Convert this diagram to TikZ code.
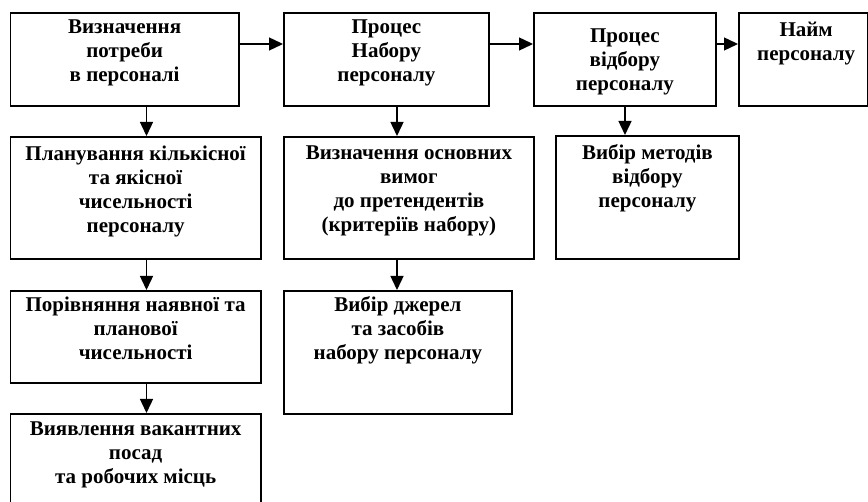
\documentclass[tikz,border=0pt]{standalone}
\usepackage{fontspec}
\setmainfont{Liberation Serif}
\usetikzlibrary{arrows.meta}
\tikzset{
  box/.style={draw, line width=1.8pt, rectangle, inner sep=0pt, anchor=north west},
  txt/.style={anchor=north, inner sep=0pt, align=center, font=\fontsize{21}{24}\selectfont\bfseries},
  arr/.style={line width=1.4pt, -{Triangle[length=14pt,width=13pt]}}
}
\newcommand{\mkbox}[5]{% name, left, top, right, bottom
  \node[box, minimum width={(#4-#2)*1pt}, minimum height={(#5-#3)*1pt}] (#1) at (#2,#3) {};}
\begin{document}
\begin{tikzpicture}[x=1pt,y=-1pt]
\useasboundingbox (0,0) rectangle (868,502);
\clip (0,0) rectangle (868,502);
\fill[white] (0,0) rectangle (868,502);
% boxes
\mkbox{b1}{9.5}{12}{238}{105}
\mkbox{b2}{283}{12}{488}{105}
\mkbox{b3}{533}{12}{715}{105}
\mkbox{b4}{738}{12}{866.5}{105}
\mkbox{c1}{9.5}{136}{260}{258}
\mkbox{c2}{283}{136}{533}{258}
\mkbox{c3}{555}{135}{738}{258}
\mkbox{d1}{9.5}{290}{260}{382}
\mkbox{d2}{283}{290}{511}{413}
\mkbox{e1}{9.5}{413}{260}{540}
% texts (north = first baseline - 0.7*baselineskip)
\node[txt] (t1) at ([yshift=-4.2]b1.north) {\strut Визначення\\потреби\\в персоналі};
\node[txt] (t2) at ([yshift=-4.2]b2.north) {\strut Процес\\Набору\\персоналу};
\node[txt] (t3) at ([yshift=-13.2]b3.north) {\strut Процес\\відбору\\персоналу};
\node[txt] (t4) at ([xshift=3,yshift=-7.2]b4.north) {\strut Найм\\персоналу};
\node[txt] (t5) at ([yshift=-7.2]c1.north) {\strut Планування кількісної\\та якісної\\чисельності\\персоналу};
\node[txt] (t6) at ([yshift=-6.2]c2.north) {\strut Визначення основних\\вимог\\до претендентів\\(критеріїв набору)};
\node[txt] (t7) at ([yshift=-7.2]c3.north) {\strut Вибір методів\\відбору\\персоналу};
\node[txt] (t8) at ([yshift=-4.2]d1.north) {\strut Порівняння наявної та\\планової\\чисельності};
\node[txt] (t9) at ([yshift=-4.2]d2.north) {\strut Вибір джерел\\та засобів\\набору персоналу};
\node[txt] (t10) at ([yshift=-5.2]e1.north) {\strut Виявлення вакантних\\посад\\та робочих місць};
% horizontal arrows
\draw[arr] (b1.east |- 0,44) -- (b2.west |- 0,44);
\draw[arr] (b2.east |- 0,44) -- (b3.west |- 0,44);
\draw[arr] (b3.east |- 0,44) -- (b4.west |- 0,44);
% vertical arrows
\draw[arr] (b1.south -| 146.5,0) -- (c1.north -| 146.5,0);
\draw[arr] (c1.south -| 146.5,0) -- (d1.north -| 146.5,0);
\draw[arr] (d1.south -| 146.5,0) -- (e1.north -| 146.5,0);
\draw[arr] (b2.south -| 397,0) -- (c2.north -| 397,0);
\draw[arr] (c2.south -| 397,0) -- (d2.north -| 397,0);
\draw[arr] (b3.south -| 625,0) -- (c3.north -| 625,0);
\end{tikzpicture}
\end{document}
